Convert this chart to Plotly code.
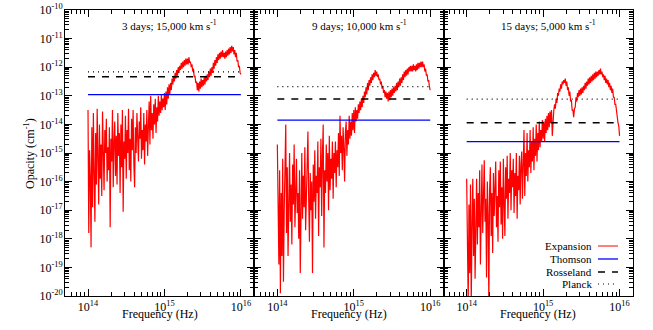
import plotly.graph_objects as go

# ---------------- data ----------------
# log10 of frequency (Hz) sample grid shared by all panels
log_freq = [
    14.00, 14.01, 14.02, 14.03, 14.04, 14.05, 14.06, 14.07, 14.08, 14.09,
    14.10, 14.11, 14.12, 14.13, 14.14, 14.15, 14.16, 14.17, 14.18, 14.19,
    14.20, 14.21, 14.22, 14.23, 14.24, 14.25, 14.26, 14.27, 14.28, 14.29,
    14.30, 14.31, 14.32, 14.33, 14.34, 14.35, 14.36, 14.37, 14.38, 14.39,
    14.40, 14.41, 14.42, 14.43, 14.44, 14.45, 14.46, 14.47, 14.48, 14.49,
    14.50, 14.51, 14.52, 14.53, 14.54, 14.55, 14.56, 14.57, 14.58, 14.59,
    14.60, 14.61, 14.62, 14.63, 14.64, 14.65, 14.66, 14.67, 14.68, 14.69,
    14.70, 14.71, 14.72, 14.73, 14.74, 14.75, 14.76, 14.77, 14.78, 14.79,
    14.80, 14.81, 14.82, 14.83, 14.84, 14.85, 14.86, 14.87, 14.88, 14.89,
    14.90, 14.91, 14.92, 14.93, 14.94, 14.95, 14.96, 14.97, 14.98, 14.99,
    15.00, 15.01, 15.02, 15.03, 15.04, 15.05, 15.06, 15.07, 15.08, 15.09,
    15.10, 15.11, 15.12, 15.13, 15.14, 15.15, 15.16, 15.17, 15.18, 15.19,
    15.20, 15.21, 15.22, 15.23, 15.24, 15.25, 15.26, 15.27, 15.28, 15.29,
    15.30, 15.31, 15.32, 15.33, 15.34, 15.35, 15.36, 15.37, 15.38, 15.39,
    15.40, 15.41, 15.42, 15.43, 15.44, 15.45, 15.46, 15.47, 15.48, 15.49,
    15.50, 15.51, 15.52, 15.53, 15.54, 15.55, 15.56, 15.57, 15.58, 15.59,
    15.60, 15.61, 15.62, 15.63, 15.64, 15.65, 15.66, 15.67, 15.68, 15.69,
    15.70, 15.71, 15.72, 15.73, 15.74, 15.75, 15.76, 15.77, 15.78, 15.79,
    15.80, 15.81, 15.82, 15.83, 15.84, 15.85, 15.86, 15.87, 15.88, 15.89,
    15.90, 15.91, 15.92, 15.93, 15.94, 15.95, 15.96, 15.97, 15.98, 15.99,
    16.00]

# log10 of expansion opacity (cm^-1), one list per panel
exp_3d = [
    -13.5, -17.8, -14.9, -15.8, -18.3, -14.1, -16.9, -13.6, -15.7, -17.4,
    -14.3, -16.1, -13.45, -15.2, -16.8, -14.0, -15.9, -14.7, -16.5, -13.55,
    -15.4, -16.3, -14.2, -15.0, -13.8, -16.0, -14.8, -15.6, -14.1, -17.6,
    -14.5, -15.3, -13.5, -16.2, -14.6, -13.9, -15.8, -14.4, -16.1, -13.6,
    -15.1, -14.3, -16.4, -14.0, -15.5, -13.5, -17.05, -14.6, -15.2, -13.7,
    -15.9, -14.2, -15.0, -13.45, -15.6, -14.5, -16.0, -13.8, -14.9, -13.5,
    -15.4, -16.2, -14.1, -15.0, -13.6, -14.7, -15.3, -13.9, -14.5, -13.4,
    -15.2, -14.2, -14.9, -13.6, -15.4, -14.0, -14.6, -13.5, -15.1, -14.1,
    -13.2, -14.7, -13.0, -14.2, -13.6, -14.5, -13.3, -14.0, -13.1, -14.3,
    -13.4, -13.9, -13.0, -13.7, -13.2, -13.6, -12.95, -13.5, -13.1, -13.4,
    -12.9, -13.5, -12.85, -13.3, -12.7, -13.1, -12.6, -12.95, -12.55, -12.8,
    -12.4, -12.6, -12.3, -12.5, -12.2, -12.4, -12.1, -12.3, -12.0, -12.2,
    -11.95, -12.1, -11.85, -12.05, -11.8, -12.0, -11.75, -11.95, -11.7, -11.9,
    -11.7, -11.9, -11.65, -11.85, -11.8, -12.0, -11.9, -12.15, -12.05, -12.35,
    -12.3, -12.55, -12.5, -12.8, -12.55, -12.85, -12.5, -12.75, -12.4, -12.7,
    -12.45, -12.65, -12.35, -12.6, -12.3, -12.5, -12.25, -12.45, -12.15, -12.35,
    -12.05, -12.3, -12.0, -12.2, -11.85, -12.05, -11.75, -11.95, -11.65, -11.85,
    -11.55, -11.75, -11.5, -11.7, -11.45, -11.65, -11.4, -11.65, -11.5, -11.7,
    -11.45, -11.65, -11.4, -11.6, -11.35, -11.55, -11.3, -11.5, -11.25, -11.45,
    -11.3, -11.55, -11.4, -11.65, -11.5, -11.8, -11.75, -12.0, -11.95, -12.2,
    -12.25]

exp_9d = [
    -14.7, -17.5, -18.9, -15.6, -19.9, -16.4, -18.6, -15.2, -19.5, -17.0,
    -16.0, -14.0, -17.8, -15.5, -18.6, -16.3, -15.0, -17.4, -16.1, -18.2,
    -15.4, -16.8, -14.7, -17.6, -16.0, -15.2, -17.1, -16.4, -18.0, -15.6,
    -19.2, -16.5, -15.0, -17.3, -15.8, -16.9, -14.8, -17.7, -16.2, -15.3,
    -14.25, -16.6, -18.1, -15.7, -17.0, -16.0, -19.2, -15.4, -16.7, -14.9,
    -17.3, -15.8, -16.4, -14.6, -17.9, -15.5, -16.2, -14.5, -17.2, -15.1,
    -14.0, -18.3, -15.6, -16.4, -14.7, -16.0, -15.0, -17.0, -14.4, -16.3,
    -15.2, -15.9, -14.6, -16.6, -15.0, -15.7, -14.6, -16.2, -14.9, -15.5,
    -14.3, -15.8, -13.7, -15.0, -14.4, -15.6, -14.1, -14.8, -16.0, -14.3,
    -13.9, -15.1, -14.2, -14.7, -13.7, -14.5, -13.9, -14.4, -13.6, -14.2,
    -13.5, -14.3, -13.4, -13.9, -13.5, -13.8, -13.3, -13.6, -13.2, -13.5,
    -13.1, -13.4, -13.0, -13.25, -12.85, -13.05, -12.7, -12.95, -12.55, -12.8,
    -12.45, -12.65, -12.35, -12.55, -12.25, -12.45, -12.2, -12.35, -12.1, -12.3,
    -12.15, -12.35, -12.25, -12.45, -12.4, -12.6, -12.5, -12.75, -12.65, -12.9,
    -12.8, -13.05, -12.85, -13.1, -12.9, -13.2, -12.85, -13.15, -12.8, -13.05,
    -12.75, -13.0, -12.7, -12.9, -12.65, -12.85, -12.55, -12.8, -12.5, -12.7,
    -12.4, -12.65, -12.35, -12.55, -12.25, -12.45, -12.15, -12.35, -12.1, -12.3,
    -12.05, -12.25, -12.0, -12.15, -11.95, -12.15, -11.95, -12.15, -11.9, -12.1,
    -11.95, -12.15, -11.9, -12.1, -11.85, -12.05, -11.85, -12.0, -11.8, -12.0,
    -11.8, -12.0, -11.9, -12.15, -12.05, -12.3, -12.25, -12.5, -12.45, -12.7,
    -12.8]

exp_15d = [
    -15.9, -18.4, -20.3, -16.8, -19.2, -16.1, -20.3, -17.5, -15.9, -18.6,
    -16.6, -19.4, -17.0, -15.9, -18.2, -16.4, -17.6, -15.6, -18.9, -16.9,
    -15.4, -17.8, -16.2, -15.25, -17.4, -16.6, -19.35, -16.0, -17.1, -20.3,
    -16.3, -15.5, -17.9, -16.4, -18.5, -15.7, -17.2, -16.1, -15.3, -17.6,
    -16.5, -18.1, -15.6, -16.9, -15.3, -17.5, -16.2, -18.0, -15.2, -16.8,
    -17.9, -15.5, -16.6, -15.1, -17.3, -15.9, -16.4, -15.0, -17.0, -15.6,
    -16.2, -15.2, -17.1, -15.7, -16.5, -15.0, -17.3, -15.8, -16.3, -15.1,
    -16.8, -15.4, -14.95, -16.6, -15.2, -14.2, -16.5, -15.0, -15.8, -14.3,
    -16.0, -14.9, -15.5, -14.2, -15.7, -14.6, -15.3, -14.1, -15.6, -14.5,
    -15.1, -14.0, -15.3, -14.3, -14.9, -13.9, -14.8, -14.2, -14.6, -13.85,
    -14.5, -13.9, -14.6, -13.8, -14.3, -13.7, -14.2, -13.6, -14.1, -13.55,
    -13.95, -13.5, -14.4, -13.6, -13.5, -13.3, -13.45, -13.1, -13.25, -12.9,
    -13.0, -12.75, -12.85, -12.6, -12.75, -12.5, -12.6, -12.45, -12.55, -12.4,
    -12.65, -12.5, -12.8, -12.7, -13.0, -12.85, -13.2, -13.15, -13.5, -13.5,
    -13.75, -13.45, -13.4, -13.05, -13.2, -12.9, -13.05, -12.8, -13.0, -12.75,
    -12.95, -12.7, -12.9, -12.65, -12.8, -12.55, -12.75, -12.5, -12.65, -12.4,
    -12.6, -12.35, -12.55, -12.3, -12.5, -12.25, -12.45, -12.2, -12.4, -12.15,
    -12.35, -12.15, -12.3, -12.1, -12.25, -12.05, -12.25, -12.15, -12.35, -12.25,
    -12.45, -12.3, -12.55, -12.4, -12.6, -12.45, -12.7, -12.55, -12.8, -12.65,
    -12.9, -12.75, -13.05, -13.05, -13.3, -13.3, -13.55, -13.65, -13.95, -14.05,
    -14.4]

panel_titles = ["3 days; 15,000 km s<sup>-1</sup>",
                "9 days; 10,000 km s<sup>-1</sup>",
                "15 days; 5,000 km s<sup>-1</sup>"]
thomson = [1.1e-13, 1.4e-14, 2.5e-15]
rosseland = [4.6e-13, 7.8e-14, 1.15e-14]
planck = [6.9e-13, 2.1e-13, 7.6e-14]
line_span = [1e14, 1e16]

x_tick_vals = [1e14, 1e15, 1e16]
x_tick_text = ["10<sup>14</sup>", "10<sup>15</sup>", "10<sup>16</sup>"]
y_tick_vals = [10.0 ** e for e in range(-20, -9)]
y_tick_text = ["10<sup>%d</sup>" % e for e in range(-20, -9)]

x_title = "Frequency (Hz)"
y_title = "Opacity (cm<sup>-1</sup>)"
legend_names = ["Expansion", "Thomson", "Rosseland", "Planck"]

assert len(exp_3d) == len(exp_9d) == len(exp_15d) == len(log_freq)

# ---------------- figure ----------------
FONT = "Liberation Serif"
RED, BLUE, BLACK = "#ff0000", "#0000ff", "#000000"
freq = [10.0 ** v for v in log_freq]
expansion = [exp_3d, exp_9d, exp_15d]

fig = go.Figure()
domains = [[0.0, 1 / 3], [1 / 3, 2 / 3], [2 / 3, 1.0]]

for k in range(3):
    xa = "x" if k == 0 else "x%d" % (k + 1)
    ya = "y" if k == 0 else "y%d" % (k + 1)
    fig.add_trace(go.Scatter(x=freq, y=[10.0 ** v for v in expansion[k]], mode="lines",
                             line=dict(color=RED, width=1.2), xaxis=xa, yaxis=ya,
                             showlegend=False, hoverinfo="skip"))
    fig.add_trace(go.Scatter(x=line_span, y=[thomson[k]] * 2, mode="lines",
                             line=dict(color=BLUE, width=1.3), xaxis=xa, yaxis=ya,
                             showlegend=False, hoverinfo="skip"))
    fig.add_trace(go.Scatter(x=line_span, y=[rosseland[k]] * 2, mode="lines",
                             line=dict(color=BLACK, width=1.5, dash="7px,7px"), xaxis=xa, yaxis=ya,
                             showlegend=False, hoverinfo="skip"))
    fig.add_trace(go.Scatter(x=line_span, y=[planck[k]] * 2, mode="lines",
                             line=dict(color=BLACK, width=1.2, dash="1px,4px"), xaxis=xa, yaxis=ya,
                             showlegend=False, hoverinfo="skip"))

    xkey = "xaxis" if k == 0 else "xaxis%d" % (k + 1)
    ykey = "yaxis" if k == 0 else "yaxis%d" % (k + 1)
    fig.layout[xkey] = dict(
        domain=domains[k], anchor=ya, type="log", range=[13.699, 16.176],
        tickmode="array", tickvals=x_tick_vals, ticktext=x_tick_text,
        ticks="inside", ticklen=7, tickwidth=1, tickcolor=BLACK,
        minor=dict(ticks="inside", ticklen=4, tickwidth=1, tickcolor=BLACK, dtick="D1", showgrid=False),
        showline=True, linecolor=BLACK, linewidth=1, mirror="ticks",
        showgrid=False, zeroline=False, automargin=False, ticklabeloverflow="allow",
        tickfont=dict(family=FONT, size=12, color=BLACK),
    )
    fig.layout[ykey] = dict(
        domain=[0, 1], anchor=xa, type="log", range=[-20, -10],
        tickmode="array", tickvals=y_tick_vals, ticktext=y_tick_text,
        showticklabels=(k == 0), ticklabelstandoff=-1, ticklabeloverflow="allow",
        ticks="inside", ticklen=7, tickwidth=1, tickcolor=BLACK,
        minor=dict(ticks="inside", ticklen=4, tickwidth=1, tickcolor=BLACK, dtick="D1", showgrid=False),
        showline=True, linecolor=BLACK, linewidth=1, mirror="ticks",
        showgrid=False, zeroline=False, automargin=False,
        tickfont=dict(family=FONT, size=12, color=BLACK),
    )
    fig.add_annotation(text=panel_titles[k], xref=xa, yref=ya, x=15.07, y=-10.52,
                       showarrow=False, font=dict(family=FONT, size=11, color=BLACK),
                       xanchor="center", yanchor="middle")
    fig.add_annotation(text=x_title, xref="paper", yref="paper",
                       x=(domains[k][0] + domains[k][1]) / 2, y=-0.063,
                       showarrow=False, font=dict(family=FONT, size=12, color=BLACK),
                       xanchor="center", yanchor="middle")

fig.add_annotation(text=y_title, xref="paper", yref="paper", x=-0.0634, y=0.5,
                   textangle=-90, showarrow=False, font=dict(family=FONT, size=12, color=BLACK),
                   xanchor="center", yanchor="middle")

# legend (gnuplot style: text on the left, line sample on the right)
leg_y = [0.1748, 0.1294, 0.0839, 0.042]
leg_style = [dict(color=RED, width=1), dict(color=BLUE, width=1.3),
             dict(color=BLACK, width=1.5, dash="7px,7px"), dict(color=BLACK, width=1.2, dash="1px,4px")]
for name, yy, st in zip(legend_names, leg_y, leg_style):
    fig.add_annotation(text=name, xref="paper", yref="paper", x=0.9296, y=yy,
                       xanchor="right", yanchor="middle", showarrow=False, borderpad=0,
                       font=dict(family=FONT, size=11, color=BLACK))
    fig.add_shape(type="line", xref="paper", yref="paper", x0=0.9384, x1=0.9736, y0=yy, y1=yy,
                  line=st)

fig.update_layout(
    width=653, height=330,
    margin=dict(l=65, r=20, t=10, b=34),
    paper_bgcolor="white", plot_bgcolor="white",
    font=dict(family=FONT, size=12, color=BLACK),
    showlegend=False, hovermode=False,
)

# remove the browser's default 8px body margin so the figure fills the 653x330 window exactly
fig.write_html("out.html", config={"displayModeBar": False},
               post_script="document.body.style.margin='0';document.body.style.overflow='hidden';")
